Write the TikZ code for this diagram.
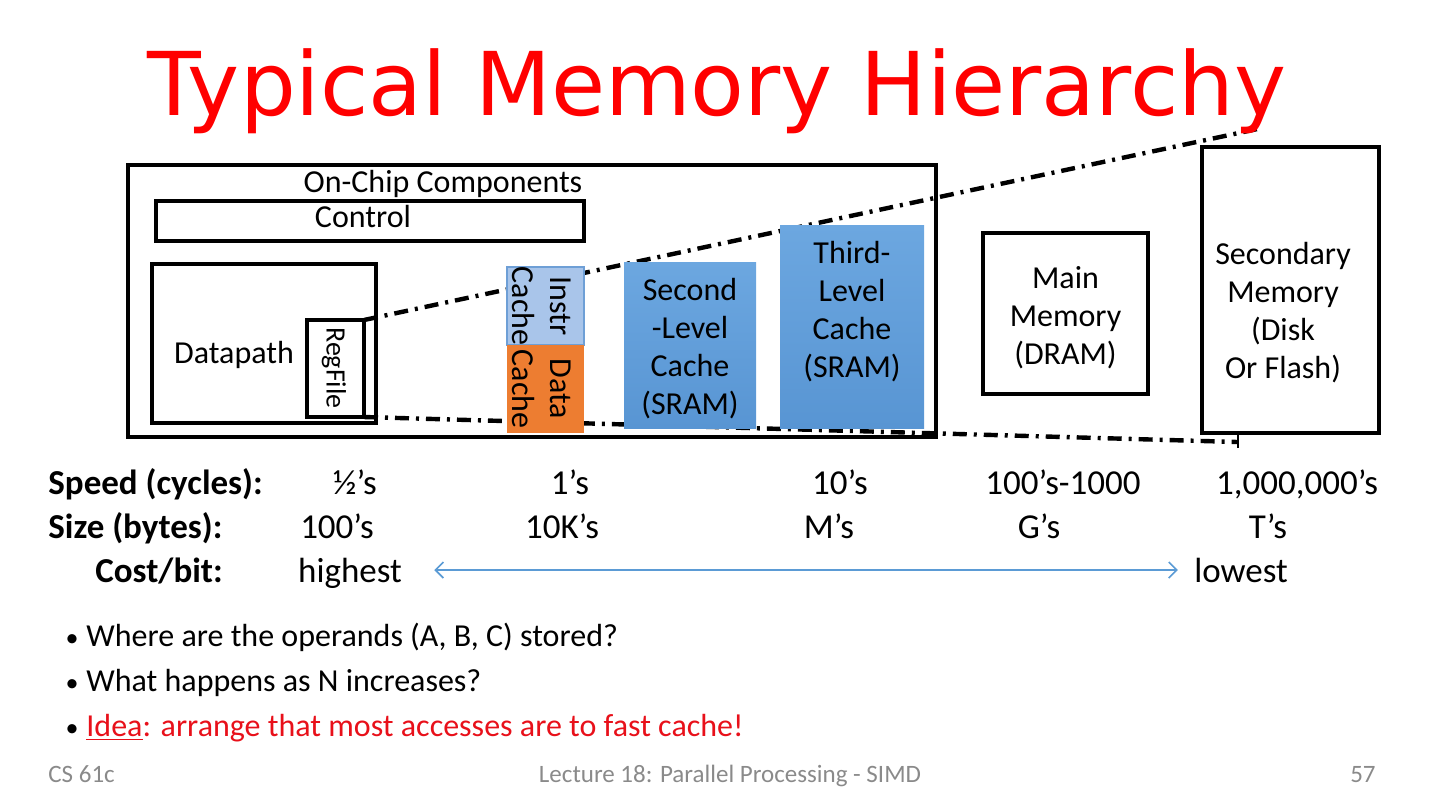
\documentclass[tikz,border=0pt]{standalone}
\usepackage{fontspec}
\setmainfont{Carlito}
\newfontfamily\titlefont{DejaVu Sans}
\usetikzlibrary{arrows.meta,positioning,calc,backgrounds}
\definecolor{TitleRed}{HTML}{FF0000}
\definecolor{IdeaRed}{HTML}{E8101A}
\definecolor{InstrBlue}{HTML}{A9C5EA}
\definecolor{InstrEdge}{HTML}{6E9FD6}
\definecolor{DataOrange}{HTML}{ED7D31}
\definecolor{CacheTop}{HTML}{6CA7E0}
\definecolor{CacheBot}{HTML}{5895D3}
\definecolor{ArrowBlue}{HTML}{5B9BD5}
\definecolor{FootGray}{HTML}{8A8A8A}
\newcommand{\boxfont}{\fontsize{16}{19}\selectfont}
\newcommand{\rowfont}{\fontsize{17.5}{20}\selectfont}

\begin{document}
\begin{tikzpicture}[x=0.5pt,y=-0.5pt,font=\boxfont,
  hwbox/.style={draw,line width=2pt,inner sep=0pt,outer sep=0pt},
  cachebox/.style={inner sep=0pt,outer sep=0pt,top color=CacheTop,bottom color=CacheBot},
  boxtext/.style={align=center,inner sep=0pt,font=\boxfont},
  rowhead/.style={anchor=base west,inner sep=0pt,font=\rowfont\bfseries},
  rowval/.style={anchor=base,inner sep=0pt,font=\rowfont},
  bullettext/.style={anchor=base west,inner sep=0pt,font=\boxfont},
  bulletdot/.style={anchor=base,inner sep=0pt,font=\fontsize{13}{15}\selectfont},
  footer/.style={inner sep=0pt,text=FootGray,font=\fontsize{12.5}{14}\selectfont},
  hierline/.style={line width=2.2pt,dash pattern=on 7pt off 3.5pt on 1.5pt off 3.5pt}]
  \useasboundingbox (0,0) rectangle (1440,811);

  % title
  \node[anchor=base,inner sep=0pt,text=TitleRed,font=\titlefont\fontsize{44}{50}\selectfont] (title) at (717,115) {Typical Memory Hierarchy};

  % on-chip part
  \node[hwbox,minimum width=404pt,minimum height=136pt] (chip) at (532,301) {};
  \node[anchor=base,inner sep=0pt] (chiplbl) at (443,192) {On-Chip Components};
  \node[hwbox,minimum width=214pt,minimum height=20pt] (control) at (370,221) {};
  \node[anchor=base,inner sep=0pt] (controllbl) at (363,227) {Control};
  \node[hwbox,minimum width=112pt,minimum height=79.5pt] (datapath) at (264,343.5) {};
  \node[anchor=base,inner sep=0pt] (datapathlbl) at (234,363) {Datapath};
  \node[hwbox,minimum width=28.5pt,minimum height=48.5pt] (regfile) at (335.5,368.5) {};
  \node[boxtext,rotate=-90,font=\fontsize{14}{16}\selectfont] (regfilelbl) at (334,368) {RegFile};

  % caches
  \node[fill=InstrBlue,draw=InstrEdge,line width=0.6pt,inner sep=0pt,minimum width=38.5pt,minimum height=39pt] (icache) at (545.5,306) {};
  \node[boxtext,rotate=-90] (icachelbl) at (542,306) {Instr\\Cache};
  \node[fill=DataOrange,inner sep=0pt,minimum width=38.5pt,minimum height=44pt] (dcache) at (545.5,389) {};
  \node[boxtext,rotate=-90] (dcachelbl) at (542,389) {Data\\Cache};
  \node[cachebox,minimum width=66pt,minimum height=83pt] (ltwo) at (690,345) {};
  \node[boxtext] (ltwolbl) at (690,349) {Second\\-Level\\Cache\\(SRAM)};
  \node[cachebox,minimum width=72pt,minimum height=101.5pt] (lthree) at (852,326.5) {};
  \node[boxtext] (lthreelbl) at (852,312) {Third-\\Level\\Cache\\(SRAM)};

  % off-chip memories
  \node[hwbox,minimum width=82.5pt,minimum height=80.5pt] (mainmem) at (1065.5,313.5) {};
  \node[boxtext] (mainmemlbl) at (1065.5,318) {Main\\Memory\\(DRAM)};
  \node[hwbox,minimum width=88.5pt,minimum height=143pt] (secmem) at (1290.5,290) {};
  \node[boxtext] (secmemlbl) at (1283,313) {Secondary\\Memory\\(Disk\\Or Flash)};

  % zoom lines
  \coordinate (topend) at (1262,128);
  \coordinate (botend) at (1238,442);
  \begin{scope}[on background layer]
    \draw[hierline] (regfile.north east) -- (topend);
    \draw[hierline] (regfile.south east) -- (botend);
    \draw[line width=1pt] ([yshift=4pt]botend) -- ([yshift=-3pt]botend);
  \end{scope}

  % speed, size, cost
  \node[rowhead] (speedlbl) at (48,494) {Speed (cycles):};
  \node[rowval] (speedreg) at (355,494) {½’s};
  \node[rowval] (speedlone) at (570,494) {1’s};
  \node[rowval] (speedltwo) at (840,494) {10’s};
  \node[rowval] (speedmain) at (1063,494) {100’s-1000};
  \node[rowval] (speedsec) at (1297,494) {1,000,000’s};
  \node[rowhead] (sizelbl) at (48,538) {Size (bytes):};
  \node[rowval] (sizereg) at (337,538) {100’s};
  \node[rowval] (sizelone) at (562,538) {10K’s};
  \node[rowval] (sizeltwo) at (829,538) {M’s};
  \node[rowval] (sizemain) at (1039,538) {G’s};
  \node[rowval] (sizesec) at (1268,538) {T’s};
  \node[rowhead] (costlbl) at (95,582) {Cost/bit:};
  \node[rowval] (highest) at (350,582) {highest};
  \node[rowval] (lowest) at (1241,582) {lowest};
  \draw[ArrowBlue,line width=0.8pt,{Straight Barb[length=4pt,width=8pt]}-{Straight Barb[length=4pt,width=8pt]}]
    ($(highest.base east)+(32,-12)$) -- ($(lowest.base west)+(-16,-12)$);

  % bullets
  \node[bulletdot] (bulone) at (72,646) {•};
  \node[bullettext] (qone) at (86,646) {Where are the operands (A, B, C) stored?};
  \node[bulletdot] (bultwo) at (72,691) {•};
  \node[bullettext] (qtwo) at (86,691) {What happens as N increases?};
  \node[bulletdot] (bulthree) at (72,736) {•};
  \node[bullettext,text=IdeaRed] (idea) at (86,736) {\underline{Idea}: arrange that most accesses are to fast cache!};

  % footer
  \node[footer,anchor=base west] (course) at (48,782) {CS 61c};
  \node[footer,anchor=base] (lecture) at (730,782) {Lecture 18: Parallel Processing - SIMD};
  \node[footer,anchor=base east] (slideno) at (1376,782) {57};
\end{tikzpicture}
\end{document}
